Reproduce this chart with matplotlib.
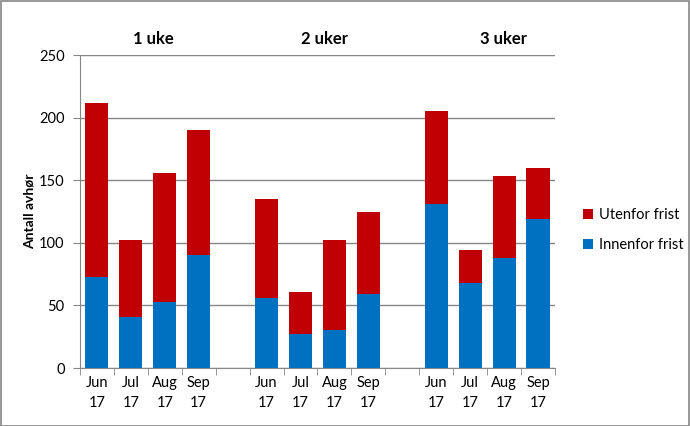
import matplotlib
matplotlib.use('Agg')
from matplotlib import pyplot as plt
from matplotlib.patches import Rectangle
import numpy as np

plt.rcParams['font.family'] = ['Lato', 'DejaVu Sans']

months = ['Jun\n17', 'Jul\n17', 'Aug\n17', 'Sep\n17']
groups = ['1 uke', '2 uker', '3 uker']

# innenfor frist (blue) and total (top of red) per group
innenfor = [[73, 41, 53, 90],
            [56, 27, 30, 59],
            [131, 68, 88, 119]]
totalt = [[212, 102, 156, 190],
          [135, 61, 102, 125],
          [205, 94, 153, 160]]

red = '#C00000'
blue = '#0070C0'
grid_col = '#868686'

fig = plt.figure(figsize=(6.9, 4.26), dpi=100)
ax = fig.add_axes([80/690, 1 - 368/426, 475/690, 313/426])

xs = []
labels = []
for g in range(3):
    for m in range(4):
        x = g * 5 + m + 0.5
        xs.append(x)
        labels.append(months[m])
        inn = innenfor[g][m]
        ute = totalt[g][m] - inn
        ax.bar(x, inn, width=0.68, color=blue, zorder=3,
               label='Innenfor frist' if (g == 0 and m == 0) else None)
        ax.bar(x, ute, bottom=inn, width=0.68, color=red, zorder=3,
               label='Utenfor frist' if (g == 0 and m == 0) else None)

ax.set_xlim(0, 14)
ax.set_ylim(0, 250)
ax.set_yticks(range(0, 251, 50))
ax.yaxis.grid(True, color=grid_col, linewidth=1)
ax.set_axisbelow(True)

ax.set_xticks(xs)
ax.set_xticklabels(labels, fontsize=10.5, linespacing=1.5)
ax.set_xticks(np.arange(0, 15), minor=True)
ax.tick_params(axis='x', which='major', length=0, pad=6)
ax.tick_params(axis='x', which='minor', length=5, color=grid_col)
ax.tick_params(axis='y', length=5, color=grid_col, labelsize=10.5, pad=6, direction='out')

for s in ['top', 'right']:
    ax.spines[s].set_visible(False)
ax.spines['left'].set_color(grid_col)
ax.spines['bottom'].set_color(grid_col)

ax.set_ylabel('Antall avhør', fontsize=10, fontweight='bold')
ax.yaxis.set_label_coords(-44/475, 0.5)

label_x = [2.15, 7.2, 12.47]
for lx, name in zip(label_x, groups):
    ax.text(lx, 1.052, name, transform=ax.get_xaxis_transform(),
            ha='center', va='center', fontsize=12, fontweight='bold')

handles, lbls = ax.get_legend_handles_labels()
fig.legend(handles[::-1], lbls[::-1], loc='center left',
           bbox_to_anchor=(570/690, 1 - 230/426), frameon=False,
           fontsize=10.5, handlelength=0.7, handleheight=0.7,
           handletextpad=0.4, labelspacing=1.1)

fig.patches.append(Rectangle((0.001, 0.001), 0.997, 0.996, transform=fig.transFigure,
                             fill=False, edgecolor=grid_col, linewidth=1.2))

fig.savefig('out.png', dpi=100)
